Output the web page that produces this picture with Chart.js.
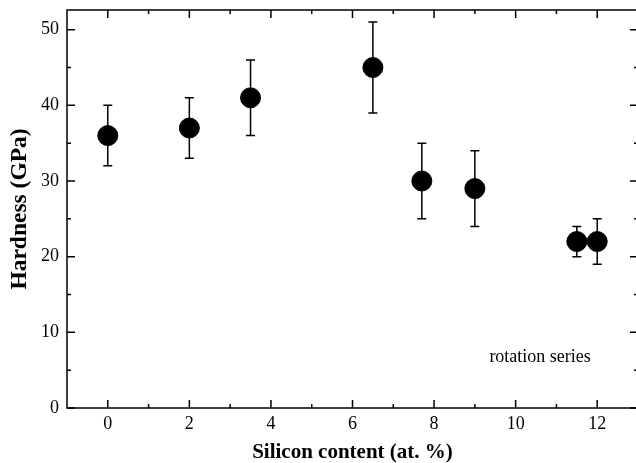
<!DOCTYPE html>
<html>
<head>
<meta charset="utf-8">
<style>
  html, body { margin: 0; padding: 0; overflow: hidden; background: #fff; }
  #wrap { width: 638px; height: 463px; }
</style>
<script src="https://cdn.jsdelivr.net/npm/chart.js@4/dist/chart.umd.min.js"></script>
</head>
<body>
<div id="wrap"><canvas id="hardness-chart" width="638" height="463"></canvas></div>
<script>
// Hardness vs. silicon content, rotation series
const siContent = [0, 2, 3.5, 6.5, 7.7, 9, 11.5, 12];
const hardness  = [36, 37, 41, 45, 30, 29, 22, 22];
const errLow    = [32, 33, 36, 39, 25, 24, 20, 19];
const errHigh   = [40, 41, 46, 51, 35, 34, 24, 25];

const xTicks = [0, 2, 4, 6, 8, 10, 12];
const xMinor = [1, 3, 5, 7, 9, 11];
const yTicks = [0, 10, 20, 30, 40, 50];
const yMinor = [5, 15, 25, 35, 45];

const serif = "'Liberation Serif', 'Times New Roman', serif";

// error bars under the markers
const errorBars = {
  id: 'errorBars',
  beforeDatasetsDraw(chart) {
    const c = chart.ctx, x = chart.scales.x, y = chart.scales.y;
    c.save();
    c.strokeStyle = '#000';
    c.lineWidth = 1.5;
    siContent.forEach((v, i) => {
      const px = x.getPixelForValue(v);
      const lo = y.getPixelForValue(errLow[i]);
      const hi = y.getPixelForValue(errHigh[i]);
      c.beginPath();
      c.moveTo(px, lo); c.lineTo(px, hi);
      c.moveTo(px - 4.5, lo); c.lineTo(px + 4.5, lo);
      c.moveTo(px - 4.5, hi); c.lineTo(px + 4.5, hi);
      c.stroke();
    });
    c.restore();
  }
};

// box frame with inward ticks on all four sides, plus the series note
const frame = {
  id: 'frame',
  afterDatasetsDraw(chart) {
    const c = chart.ctx, a = chart.chartArea, x = chart.scales.x, y = chart.scales.y;
    c.save();
    c.strokeStyle = '#000';
    c.lineWidth = 1.5;
    c.strokeRect(a.left, a.top, a.right - a.left, a.bottom - a.top);
    c.beginPath();
    const xt = (v, len) => {
      const px = x.getPixelForValue(v);
      c.moveTo(px, a.bottom); c.lineTo(px, a.bottom - len);
      c.moveTo(px, a.top); c.lineTo(px, a.top + len);
    };
    const yt = (v, len) => {
      const py = y.getPixelForValue(v);
      c.moveTo(a.left, py); c.lineTo(a.left + len, py);
      c.moveTo(a.right, py); c.lineTo(a.right - len, py);
    };
    xTicks.forEach(v => xt(v, 8));
    xMinor.forEach(v => xt(v, 4));
    yTicks.forEach(v => yt(v, 8));
    yMinor.forEach(v => yt(v, 4));
    c.stroke();

    c.fillStyle = '#000';
    c.font = '18px ' + serif;
    c.textAlign = 'center';
    c.textBaseline = 'middle';
    c.fillText('rotation series', x.getPixelForValue(10.6), y.getPixelForValue(6.7));
    c.restore();
  }
};

// keep the plot box fixed: no extra room reserved for edge tick labels
const noEdgePad = s => {
  s.paddingLeft = 0; s.paddingRight = 0;
  s.paddingTop = 0; s.paddingBottom = 0;
};

new Chart(document.getElementById('hardness-chart'), {
  type: 'scatter',
  data: {
    datasets: [{
      label: 'rotation series',
      data: siContent.map((v, i) => ({ x: v, y: hardness[i] })),
      backgroundColor: '#000',
      borderColor: '#000',
      pointRadius: 10,
      pointHoverRadius: 10
    }]
  },
  options: {
    responsive: false,
    animation: false,
    layout: { autoPadding: false, padding: { top: 10, right: 0, left: 0, bottom: 0 } },
    plugins: {
      legend: { display: false },
      tooltip: { enabled: false }
    },
    scales: {
      x: {
        type: 'linear',
        min: -1,
        max: 13,
        afterBuildTicks: s => { s.ticks = xTicks.map(v => ({ value: v })); },
        afterFit: s => { s.height = 55; noEdgePad(s); },
        grid: { display: false, drawTicks: false },
        border: { display: false },
        ticks: { color: '#000', font: { family: serif, size: 18 }, padding: 5, maxRotation: 0 },
        title: {
          display: true,
          text: 'Silicon content (at. %)',
          color: '#000',
          font: { family: serif, size: 21, weight: 'bold', lineHeight: 1 },
          padding: { top: 0, bottom: 0 }
        }
      },
      y: {
        min: 0,
        max: 52.6,
        afterBuildTicks: s => { s.ticks = yTicks.map(v => ({ value: v })); },
        afterFit: s => { s.width = 67; noEdgePad(s); },
        grid: { display: false, drawTicks: false },
        border: { display: false },
        ticks: { color: '#000', font: { family: serif, size: 18 }, padding: 8 },
        title: {
          display: true,
          text: 'Hardness (GPa)',
          color: '#000',
          font: { family: serif, size: 23.5, weight: 'bold', lineHeight: 1 },
          padding: { top: 8, bottom: 0 }
        }
      }
    }
  },
  plugins: [errorBars, frame]
});
</script>
</body>
</html>
